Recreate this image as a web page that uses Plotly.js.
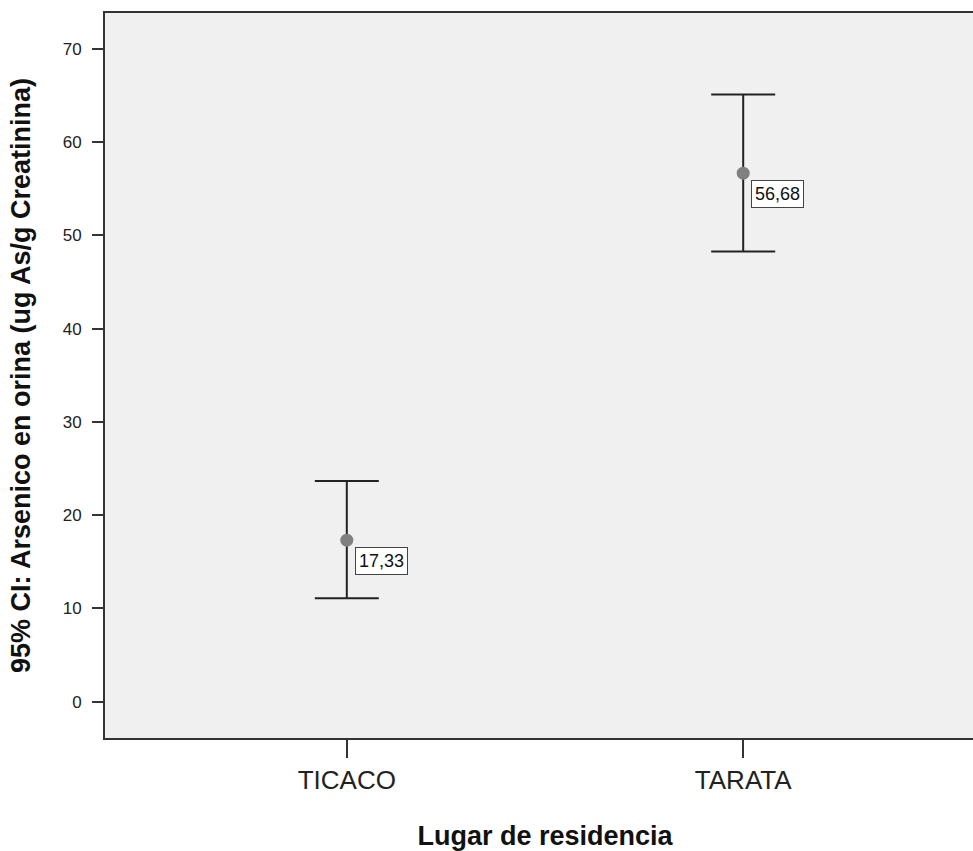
<!DOCTYPE html>
<html>
<head>
<meta charset="utf-8">
<script src="https://cdn.plot.ly/plotly-3.0.1.min.js"></script>
<style>
html, body { margin: 0; padding: 0; overflow: hidden; background: #fff; }
#chart { width: 990px; height: 851px; }
</style>
</head>
<body>
<div id="chart"></div>
<script>
const categories = ['TICACO', 'TARATA'];
const means = [17.33, 56.68];
const upperCI = [23.68, 65.13];
const lowerCI = [11.09, 48.28];
const yTickVals = [0, 10, 20, 30, 40, 50, 60, 70];

const labels = means.map(v => v.toFixed(2).replace('.', ','));

const trace = {
  type: 'scatter',
  mode: 'markers',
  x: categories,
  y: means,
  marker: { size: 13, color: '#808080' },
  error_y: {
    type: 'data',
    symmetric: false,
    array: upperCI.map((u, i) => u - means[i]),
    arrayminus: lowerCI.map((l, i) => means[i] - l),
    color: '#222222',
    thickness: 2,
    width: 32
  },
  hoverinfo: 'skip',
  showlegend: false
};

const annotations = categories.map((c, i) => ({
  x: c, y: means[i], xref: 'x', yref: 'y',
  text: labels[i], showarrow: false,
  xanchor: 'left', yanchor: 'top', xshift: 8, yshift: -7,
  bgcolor: '#ffffff', bordercolor: '#444444', borderwidth: 1, borderpad: 3,
  font: { family: 'Liberation Sans, Arial, sans-serif', size: 18, color: '#111' }
}));

const layout = {
  width: 990, height: 851,
  margin: { l: 105, r: 5, t: 13, b: 113 },
  paper_bgcolor: '#ffffff',
  plot_bgcolor: '#f0f0f0',
  font: { family: 'Liberation Sans, Arial, sans-serif', color: '#222' },
  xaxis: {
    type: 'category',
    range: [-0.61, 1.61],
    showline: true, linecolor: '#333', linewidth: 2, mirror: true,
    ticks: 'outside', ticklen: 18, tickwidth: 2, tickcolor: '#333',
    showgrid: false, zeroline: false,
    tickfont: { size: 26, color: '#222' },
    title: { text: 'Lugar de residencia', font: { size: 27, color: '#111', weight: 'bold' }, standoff: 33 },
    automargin: false
  },
  yaxis: {
    range: [-3.89, 73.86],
    tickvals: yTickVals,
    showline: true, linecolor: '#333', linewidth: 2, mirror: true,
    ticks: 'outside', ticklen: 11, tickwidth: 2, tickcolor: '#333',
    ticklabelstandoff: 7,
    showgrid: false, zeroline: false,
    tickfont: { size: 17, color: '#222' },
    title: { text: '95% CI: Arsenico en orina (ug As/g Creatinina)', font: { size: 27, color: '#111', weight: 'bold' }, standoff: 24 },
    automargin: false
  },
  annotations: annotations
};

Plotly.newPlot('chart', [trace], layout, { displayModeBar: false, staticPlot: true });
</script>
</body>
</html>
